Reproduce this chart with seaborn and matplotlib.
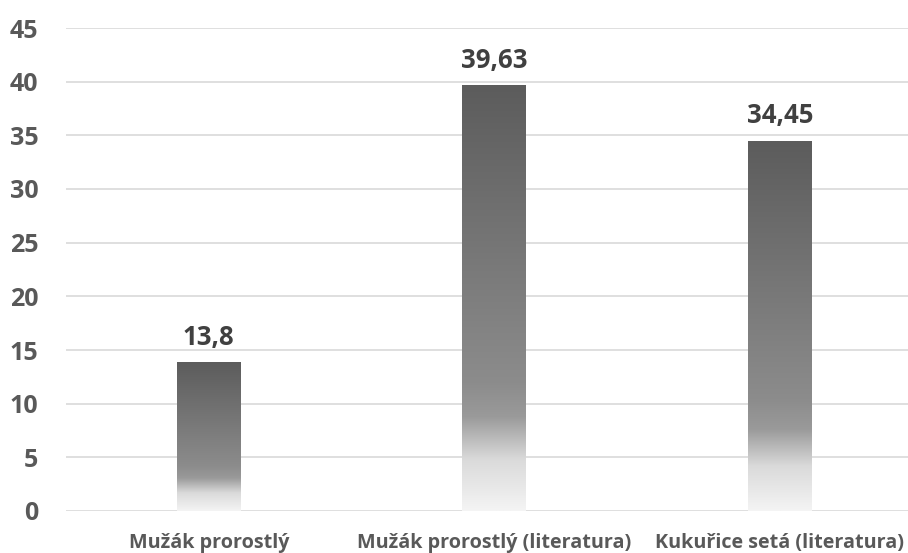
import numpy as np
import pandas as pd
import matplotlib
matplotlib.use("Agg")
import matplotlib.pyplot as plt
from matplotlib.colors import LinearSegmentedColormap
import seaborn as sns

categories = ["Mužák prorostlý", "Mužák prorostlý (literatura)", "Kukuřice setá (literatura)"]
values = [13.8, 39.63, 34.45]
value_labels = ["13,8", "39,63", "34,45"]
y_ticks = [0, 5, 10, 15, 20, 25, 30, 35, 40, 45]

sns.set_theme(style="white")
plt.rcParams["font.family"] = ["Open Sans", "DejaVu Sans"]
plt.rcParams["font.weight"] = "bold"

df = pd.DataFrame({"kategorie": categories, "hodnota": values})

fig = plt.figure(figsize=(9.08, 5.53), dpi=100)
ax = fig.add_axes([66 / 908, 1 - 511 / 553, 1 - 66 / 908, (511 - 28) / 553])

sns.barplot(data=df, x="kategorie", y="hodnota", ax=ax, width=0.224,
            color="#5e5e5e", saturation=1, zorder=2)

# vertical gradient: dark top fading to near white at the bottom
grad = LinearSegmentedColormap.from_list(
    "fade",
    [(0.0, "#f4f4f4"), (0.12, "#dadada"), (0.22, "#9a9a9a"),
     (0.30, "#8c8c8c"), (1.0, "#5c5c5c")])
g = np.linspace(0, 1, 256).reshape(-1, 1)
for patch in ax.patches:
    x0 = patch.get_x()
    w = patch.get_width()
    h = patch.get_height()
    patch.set_facecolor("none")
    patch.set_edgecolor("none")
    ax.imshow(g, cmap=grad, origin="lower", aspect="auto",
              extent=(x0, x0 + w, 0, h), zorder=3, interpolation="bilinear")

for i, (v, lab) in enumerate(zip(values, value_labels)):
    ax.annotate(lab, xy=(i, v), xytext=(0, 8.5), textcoords="offset points",
                ha="center", va="bottom", fontsize=18.5, fontweight="bold",
                color="#404040", zorder=4)

ax.set_xlim(-0.5, (908 - 208.8) / 285.6)
ax.set_ylim(0, 45)
ax.set_yticks(y_ticks)
ax.set_yticklabels([str(t) for t in y_ticks], fontweight="bold")
ax.set_xticks(range(len(categories)))
ax.set_xticklabels(categories, fontweight="bold")
ax.yaxis.grid(True, color="#d9d9d9", linewidth=1.2, zorder=0)
ax.set_axisbelow(True)
for s in ax.spines.values():
    s.set_visible(False)
ax.set_xlabel("")
ax.set_ylabel("")
ax.tick_params(axis="y", length=0, pad=20, labelsize=18, labelcolor="#595959")
ax.tick_params(axis="x", length=0, pad=15.5, labelsize=14.2, labelcolor="#595959")

fig.savefig("out.png", dpi=100)
